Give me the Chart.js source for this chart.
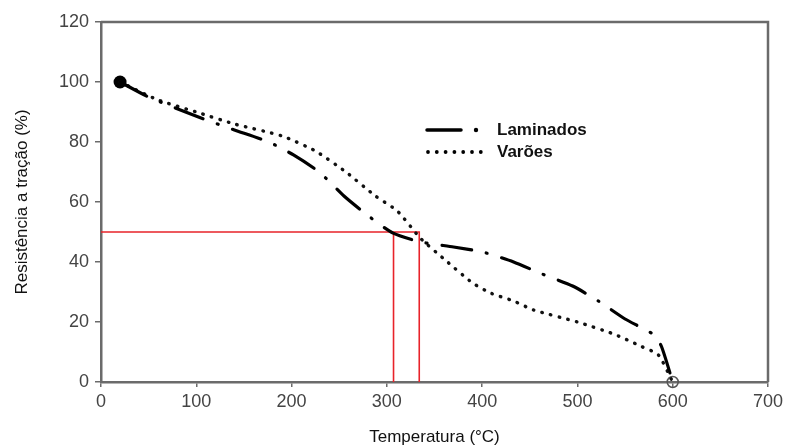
<!DOCTYPE html>
<html>
<head>
<meta charset="utf-8">
<script src="https://cdn.jsdelivr.net/npm/chart.js@4.4.1/dist/chart.umd.min.js"></script>
<style>
  html, body { margin: 0; padding: 0; background: #fff; }
  #wrap { width: 788px; height: 448px; position: relative; }
</style>
</head>
<body>
<div id="wrap"><canvas id="myChart" width="788" height="448"></canvas></div>
<script>
// values
const tempLaminados = [20, 50, 105, 140, 176, 202, 229, 255, 280, 306, 335, 370, 401, 433, 463, 495, 522, 550, 579, 588, 600];
const resLaminados = [100, 95, 88, 84, 80, 75.7, 70, 62, 55.5, 49.7, 46.7, 45, 43.3, 40, 36, 32, 27, 21, 16, 12, 0];

const tempVaroes = [20, 60, 100, 140, 190, 225, 257, 288, 311, 335, 360, 390, 410, 433, 454, 500, 538, 566, 585, 600];
const resVaroes = [100, 94, 90, 86, 82, 77, 70, 62, 57, 48, 41, 33, 29.5, 27, 24, 20, 16, 12, 9, 0];

// red guide lines (x, y pairs; null breaks the line)
const redX = [0, 334, 334, null, 307, 307];
const redY = [50, 50, 0, null, 0, 50];

const startPoint = [{ x: 20, y: 100 }];
const endPoint = [{ x: 600, y: 0 }];

const xTicks = [0, 100, 200, 300, 400, 500, 600, 700];
const yTicks = [0, 20, 40, 60, 80, 100, 120];

const seriesNames = ["Laminados", "Varões"];
const xTitle = "Temperatura (°C)";
const yTitle = "Resistência a tração (%)";

const toPoints = (xs, ys) => xs.map((x, i) => (x === null ? { x: null, y: null } : { x: x, y: ys[i] }));

const axisGrey = "#6b6b6b";

const frame = {
  id: "frame",
  afterDatasetsDraw(chart) {
    const { ctx, chartArea } = chart;
    ctx.save();
    ctx.strokeStyle = axisGrey;
    ctx.lineWidth = 2.5;
    ctx.beginPath();
    ctx.moveTo(chartArea.left, chartArea.top);
    ctx.lineTo(chartArea.right, chartArea.top);
    ctx.lineTo(chartArea.right, chartArea.bottom);
    ctx.stroke();
    ctx.restore();
  }
};

const legendBox = {
  id: "legendBox",
  afterDraw(chart) {
    const { ctx, chartArea } = chart;
    const x0 = chartArea.left + 326;
    const y0 = chartArea.top + 108;
    ctx.save();
    ctx.strokeStyle = "#000";
    ctx.lineCap = "round";
    // Laminados sample
    ctx.lineWidth = 3.5;
    ctx.setLineDash([]);
    ctx.beginPath();
    ctx.moveTo(x0, y0);
    ctx.lineTo(x0 + 34, y0);
    ctx.stroke();
    ctx.beginPath();
    ctx.arc(x0 + 49, y0, 2.2, 0, Math.PI * 2);
    ctx.fillStyle = "#000";
    ctx.fill();
    // Varões sample
    for (let i = 0; i < 7; i++) {
      ctx.beginPath();
      ctx.arc(x0 + 1 + i * 8.8, y0 + 22, 1.9, 0, Math.PI * 2);
      ctx.fill();
    }
    ctx.fillStyle = "#111";
    ctx.font = "bold 17px 'Liberation Sans', Arial, sans-serif";
    ctx.textBaseline = "middle";
    ctx.fillText(seriesNames[0], x0 + 70, y0);
    ctx.fillText(seriesNames[1], x0 + 70, y0 + 22);
    ctx.restore();
  }
};

new Chart("myChart", {
  type: "line",
  data: {
    datasets: [
      {
        label: seriesNames[0],
        data: toPoints(tempLaminados, resLaminados),
        borderColor: "#000",
        borderWidth: 3.2,
        borderDash: [30, 15, 1, 15],
        borderCapStyle: "round",
        pointRadius: 0,
        tension: 0.2,
        fill: false
      },
      {
        label: seriesNames[1],
        data: toPoints(tempVaroes, resVaroes),
        borderColor: "#111",
        borderWidth: 3.4,
        borderDash: [0.5, 8.4],
        borderCapStyle: "round",
        pointRadius: 0,
        tension: 0.2,
        fill: false
      },
      {
        label: "guide",
        data: toPoints(redX, redY),
        borderColor: "#e8232a",
        borderWidth: 1.6,
        pointRadius: 0,
        spanGaps: false,
        tension: 0,
        fill: false
      },
      {
        label: "start",
        data: startPoint,
        showLine: false,
        pointRadius: 6.5,
        pointBackgroundColor: "#000",
        pointBorderColor: "#000",
        borderWidth: 0
      },
      {
        label: "end",
        data: endPoint,
        showLine: false,
        pointRadius: 5.5,
        pointBackgroundColor: "rgba(255,255,255,0)",
        pointBorderColor: "#555",
        pointBorderWidth: 1.5,
        clip: false
      }
    ]
  },
  options: {
    responsive: false,
    animation: false,
    layout: { padding: { top: 22, right: 20, left: 0, bottom: 0 } },
    plugins: {
      legend: { display: false },
      tooltip: { enabled: false }
    },
    scales: {
      x: {
        type: "linear",
        min: 0,
        max: 700,
        afterBuildTicks: (scale) => { scale.ticks = xTicks.map((v) => ({ value: v })); },
        afterFit: (scale) => { scale.height = 66; },
        border: { color: axisGrey, width: 2.5 },
        grid: { drawOnChartArea: false, color: axisGrey, tickLength: 5, lineWidth: 1.5 },
        ticks: {
          color: "#444",
          padding: 4,
          maxRotation: 0,
          font: { family: "'Liberation Sans', Arial, sans-serif", size: 18 }
        },
        title: {
          display: true,
          text: xTitle,
          color: "#111",
          padding: { top: 8, bottom: 0 },
          font: { family: "'Liberation Sans', Arial, sans-serif", size: 17 }
        }
      },
      y: {
        min: 0,
        max: 120,
        afterBuildTicks: (scale) => { scale.ticks = yTicks.map((v) => ({ value: v })); },
        afterFit: (scale) => { scale.width = 101; },
        border: { color: axisGrey, width: 2.5 },
        grid: { drawOnChartArea: false, color: axisGrey, tickLength: 6, lineWidth: 1.5 },
        ticks: {
          color: "#444",
          padding: 6,
          font: { family: "'Liberation Sans', Arial, sans-serif", size: 18 }
        },
        title: {
          display: true,
          text: yTitle,
          color: "#111",
          padding: { top: 12, bottom: 0 },
          font: { family: "'Liberation Sans', Arial, sans-serif", size: 17 }
        }
      }
    }
  },
  plugins: [frame, legendBox]
});
</script>
</body>
</html>
